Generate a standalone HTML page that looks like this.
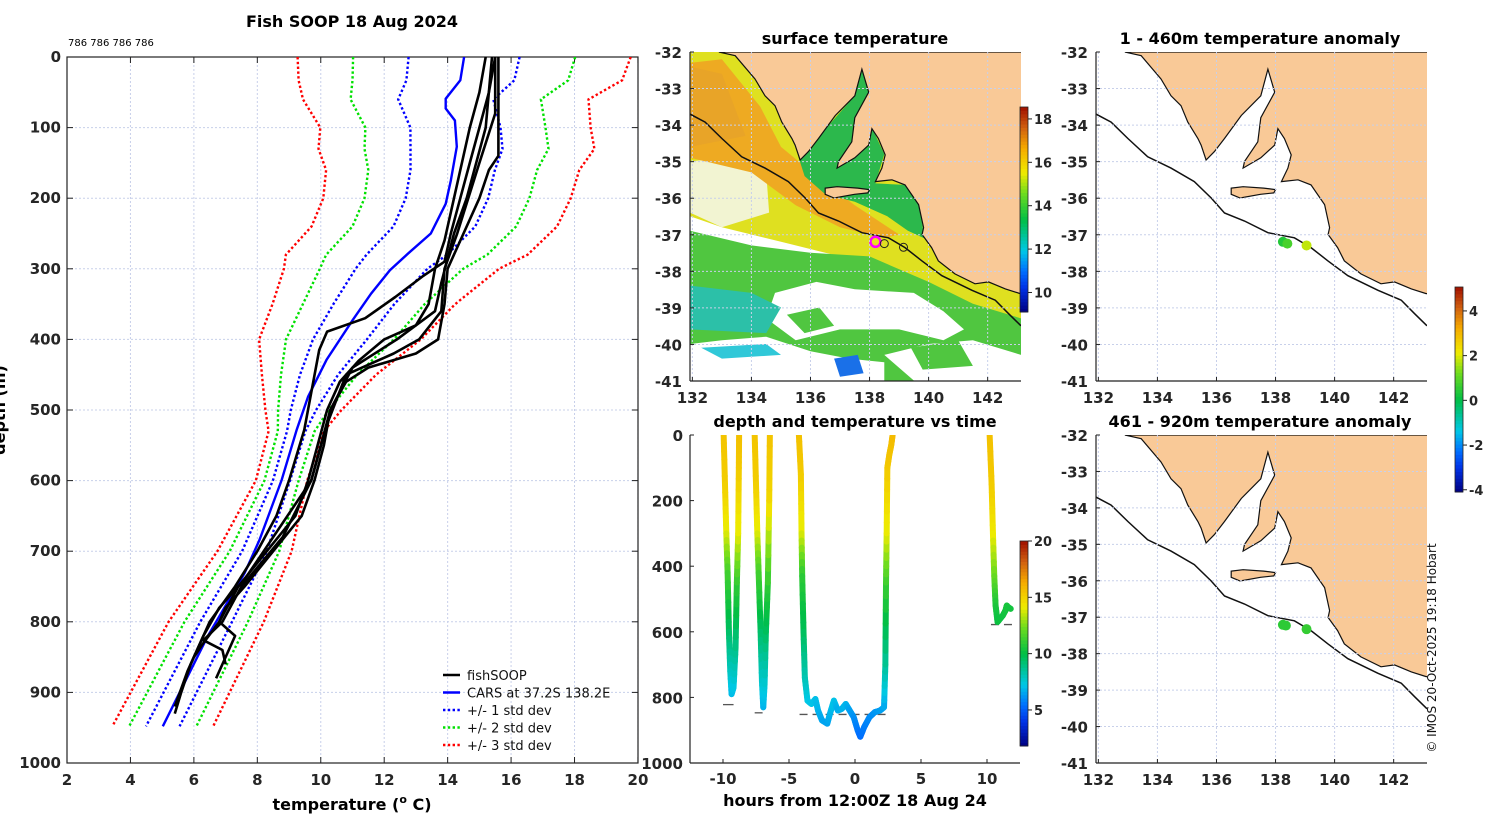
<!DOCTYPE html>
<html><head><meta charset="utf-8"><title>Fish SOOP 18 Aug 2024</title>
<style>
html,body{margin:0;padding:0;background:#fff;}
svg{display:block;font-family:"DejaVu Sans","Liberation Sans",sans-serif;}
.tk{font-size:15px;font-weight:bold;fill:#262626;}
.tt{font-size:16px;font-weight:bold;fill:#000;}
.pl{font-weight:normal;fill:#111;}
</style></head>
<body>
<svg id="fig" width="1500" height="820" viewBox="0 0 1500 820" xmlns="http://www.w3.org/2000/svg">
<defs>
<clipPath id="cpMain"><rect x="67" y="57" width="571" height="706"/></clipPath>
<clipPath id="cpM1"><rect x="690" y="52" width="331" height="329"/></clipPath>
<clipPath id="cpM2"><rect x="1096" y="52" width="331" height="329"/></clipPath>
<clipPath id="cpM3"><rect x="1096" y="435" width="331" height="328"/></clipPath>
<clipPath id="cpDT"><rect x="690" y="435" width="330" height="328"/></clipPath>
</defs>
</svg>
<script>
// ---------------- DATA ----------------
const carsDepth=[0,33,59,73,90,127,175,208,250,278,302,335,373,429,481,528,599,684,731,821,948];
const carsTemp=[14.52,14.4,13.94,13.94,14.23,14.29,14.1,13.94,13.47,12.76,12.18,11.59,11.0,10.18,9.6,9.24,8.77,8.07,7.6,6.43,5.02];
const sdDepth=[0,33,60,100,130,160,200,240,280,300,350,400,450,500,530,600,700,800,948];
const sdVal=[1.75,1.70,1.50,1.42,1.45,1.33,1.30,1.29,1.27,1.13,0.96,0.85,0.6,0.4,0.29,0.27,0.39,0.5,0.53];
const p1Depth=[0,50,100,150,200,250,290,311,340,370,389,415,528,600,650,700,750,800,830,870,920];
const p1Temp=[15.5,15.3,15.0,14.7,14.4,14.1,13.9,13.2,12.35,11.4,10.2,9.95,9.48,9.0,8.6,8.0,7.3,6.5,6.2,5.8,5.4];
const p2Depth=[0,100,140,160,200,250,300,350,400,420,440,460,500,550,600,650,700,750,780,800,820,850,880];
const p2Temp=[15.6,15.6,15.6,15.3,15.0,14.5,14.0,13.9,13.7,13.0,11.5,10.8,10.3,10.1,9.8,9.4,8.5,7.6,7.0,6.8,7.3,7.0,6.7];
const p3Depth=[0,50,100,200,260,300,350,380,400,430,460,500,600,650,700,750,800,830,850];
const p3Temp=[15.2,15.0,14.7,14.2,13.9,13.6,13.4,13.0,12.0,11.2,10.6,10.2,9.6,9.2,8.3,7.4,6.8,6.3,6.0];
const p4Depth=[0,100,200,250,320,360,400,440,500,600,700,740,780,820,860,900,930];
const p4Temp=[15.4,15.2,14.6,14.2,13.8,13.6,12.4,11.0,10.3,9.7,8.2,7.6,6.8,6.3,5.9,5.6,5.4];
const p5Depth=[0,80,150,250,300,360,400,420,450,520,600,680,750,800,826,840,860];
const p5Temp=[15.5,15.5,15.0,14.3,13.9,13.8,13.1,12.3,10.8,10.2,9.7,8.8,7.5,6.9,6.3,6.9,7.0];
const xTicks=[2,4,6,8,10,12,14,16,18,20];
const yTicks=[0,100,200,300,400,500,600,700,800,900,1000];
const d1Hour=[-9.95,-9.85,-9.75,-9.65,-9.55,-9.45,-9.35,-9.2,-9.05,-8.95,-8.85,-8.8,-8.78];
const d1Depth=[0,150,300,420,600,720,790,770,650,450,300,100,0];
const d1Temp=[15.5,15.2,14,11.5,9.5,8,7,7.2,8.8,11,14,15.3,15.6];
const d2Hour=[-7.6,-7.5,-7.4,-7.3,-7.15,-7.05,-6.95,-6.85,-6.75,-6.6,-6.5,-6.45];
const d2Depth=[0,150,300,420,600,750,830,760,600,450,200,0];
const d2Temp=[15.5,15.2,14,11.5,9.5,7.8,6.8,7.5,9.5,11,14.8,15.5];
const d3Hour=[-4.25,-4.1,-4.05,-4.0,-3.9,-3.8,-3.6,-3.3,-3.0,-2.8,-2.5,-2.1,-1.9,-1.6,-1.3,-1.0,-0.7,-0.4,-0.1,0.2,0.4,0.7,1.1,1.5,1.9,2.2,2.3,2.35,2.4,2.45,2.6,2.75,2.85];
const d3Depth=[0,120,300,430,600,740,810,820,805,840,870,880,850,810,840,835,820,840,860,900,920,890,860,845,840,830,700,450,300,100,60,30,0];
const d3Temp=[15.6,15.3,14,11,9.7,8.2,7.3,7.2,7.1,6.9,6.6,6.5,6.8,7.2,6.7,6.8,6.9,6.5,6.2,5.7,5.4,5.7,6.0,6.2,6.4,6.5,8.5,11.2,14,15.3,15.5,15.6,15.8];
const d4Hour=[10.2,10.35,10.45,10.55,10.65,10.8,11.0,11.2,11.4,11.5,11.6,11.8];
const d4Depth=[0,150,300,430,520,570,560,550,535,520,525,530];
const d4Temp=[15.6,15.3,14.3,12.3,10.6,10.2,10.3,10.3,10.4,10.5,10.5,10.4];
const bottomStart=[-10.0,-7.6,-4.2,10.3];
const bottomEnd=[-9.2,-7.0,2.4,12.1];
const bottomDepth=[822,847,852,578];
const hourTicks=[-10,-5,0,5,10];
const dtDepthTicks=[0,200,400,600,800,1000];
const lonTicks=[132,134,136,138,140,142];
const latTicks=[-32,-33,-34,-35,-36,-37,-38,-39,-40,-41];
const coastLon=[132.9,133.45,134.12,134.46,134.8,135.03,135.37,135.48,135.65,135.93,136.27,136.84,137.5,137.74,137.97,137.5,137.4,136.95,136.9,137.5,137.97,138.08,138.3,138.53,138.42,138.2,138.76,139.2,139.66,139.83,139.78,140.1,140.33,140.89,141.57,142.03,142.6,143.1,143.2,143.2];
const coastLat=[-32,-32.1,-32.74,-33.2,-33.47,-33.92,-34.37,-34.55,-34.96,-34.73,-34.37,-33.74,-33.2,-32.47,-33.1,-33.8,-34.46,-35.0,-35.18,-34.9,-34.55,-34.1,-34.37,-34.82,-35.18,-35.55,-35.5,-35.64,-36.18,-36.81,-37.0,-37.36,-37.72,-38.08,-38.35,-38.3,-38.49,-38.62,-38.62,-32];
const kiLon=[136.5,136.9,137.6,138.0,137.94,137.49,136.8,136.5];
const kiLat=[-35.73,-35.69,-35.73,-35.77,-35.86,-35.9,-36.0,-35.9];
const shelfLon=[131.92,132.43,133,133.67,134.46,135.25,135.82,136.27,136.95,137.74,138.64,139.2,139.77,140.45,141.47,142.26,142.71,143.13];
const shelfLat=[-33.7,-33.92,-34.37,-34.87,-35.18,-35.55,-36.0,-36.41,-36.63,-36.95,-37.09,-37.36,-37.72,-38.13,-38.53,-38.8,-39.17,-39.5];
const anomLon1=[138.25,138.4,139.05];
const anomLat1=[-37.2,-37.25,-37.3];
const anomVal1=[0.4,0.8,1.8];
const anomLon2=[138.25,138.35,139.05];
const anomLat2=[-37.2,-37.22,-37.32];
const anomVal2=[0.5,0.5,0.6];
const sstCbTicks=[10,12,14,16,18];
const anomCbTicks=[-4,-2,0,2,4];
const dtCbTicks=[5,10,15,20];

// ---------------- HELPERS ----------------
const NS="http://www.w3.org/2000/svg";
const svg=document.getElementById('fig');
function mk(tag,attrs,parent){const e=document.createElementNS(NS,tag);for(const k in attrs)e.setAttribute(k,attrs[k]);(parent||svg).appendChild(e);return e;}
function txt(s,x,y,cls,anchor,parent){const t=mk('text',{x:x,y:y,'class':cls,'text-anchor':anchor||'middle'},parent);t.textContent=s;return t;}
const stops=[[0,[0,0,128]],[0.12,[0,50,230]],[0.2,[0,110,255]],[0.3,[0,200,230]],[0.45,[0,190,70]],[0.58,[110,220,30]],[0.68,[240,235,0]],[0.8,[245,170,0]],[0.9,[208,96,16]],[1,[160,16,0]]];
function cmap(f){f=Math.max(0,Math.min(1,f));for(let i=1;i<stops.length;i++){if(f<=stops[i][0]){const a=stops[i-1],b=stops[i];const t=(f-a[0])/(b[0]-a[0]);const c=a[1].map((v,j)=>Math.round(v+(b[1][j]-v)*t));return 'rgb('+c.join(',')+')';}}return 'rgb(160,16,0)';}
function interp(xs,ys,x){if(x<=xs[0])return ys[0];for(let i=1;i<xs.length;i++){if(x<=xs[i]){const t=(x-xs[i-1])/(xs[i]-xs[i-1]);return ys[i-1]+t*(ys[i]-ys[i-1]);}}return ys[ys.length-1];}

// ---------------- MAIN PROFILE CHART ----------------
const xT=T=>67+(T-2)*31.72;
const yD=d=>57+d*0.706;
const gMain=mk('g',{});


const title=txt('Fish SOOP 18 Aug 2024',352,27,'tt','middle',gMain);


const cnt=txt('786 786 786 786',68,46,'pl','start',gMain);
cnt.setAttribute('style','font-size:10px;fill:#000');


xTicks.forEach(v=>{
  const gl=mk('line',{x1:xT(v),x2:xT(v),y1:57,y2:763,stroke:'#c8d0ea','stroke-dasharray':'2,2','stroke-width':1},gMain);
  
  
  mk('line',{x1:xT(v),x2:xT(v),y1:57,y2:63,stroke:'#222'},gMain);
  mk('line',{x1:xT(v),x2:xT(v),y1:763,y2:757,stroke:'#222'},gMain);
  const t=txt(String(v),xT(v),785,'tk','middle',gMain);
  
  
});
yTicks.forEach(v=>{
  const gl=mk('line',{x1:67,x2:638,y1:yD(v),y2:yD(v),stroke:'#c8d0ea','stroke-dasharray':'2,2','stroke-width':1},gMain);
  
  
  mk('line',{x1:67,x2:73,y1:yD(v),y2:yD(v),stroke:'#222'},gMain);
  mk('line',{x1:632,x2:638,y1:yD(v),y2:yD(v),stroke:'#222'},gMain);
  const t=txt(String(v),61,yD(v)+5,'tk','end',gMain);
  
  
});
const box=mk('rect',{x:67,y:57,width:571,height:706,fill:'none',stroke:'#222','stroke-width':1.2},gMain);


const plotG=mk('g',{'clip-path':'url(#cpMain)'},gMain);
const bandCols=['#0000ff','#00e000','#ff0000'];
[1,2,3].forEach(k=>{
  [-1,1].forEach(s=>{
    const pts=sdDepth.map((d,i)=>xT(interp(carsDepth,carsTemp,d)+s*k*sdVal[i]).toFixed(1)+','+yD(d).toFixed(1)).join(' ');
    const pl=mk('polyline',{points:pts,fill:'none',stroke:bandCols[k-1],'stroke-width':2.4,'stroke-dasharray':'2.4,2.4'},plotG);
    
    
  });
});
const carsLine=mk('polyline',{points:carsDepth.map((d,i)=>xT(carsTemp[i]).toFixed(1)+','+yD(d).toFixed(1)).join(' '),fill:'none',stroke:'#0000ff','stroke-width':2.4},plotG);


[[p1Depth,p1Temp],[p2Depth,p2Temp],[p3Depth,p3Temp],[p4Depth,p4Temp],[p5Depth,p5Temp]].forEach((p,i)=>{
  const pl=mk('polyline',{points:p[0].map((d,j)=>xT(p[1][j]).toFixed(1)+','+yD(d).toFixed(1)).join(' '),fill:'none',stroke:'#000','stroke-width':2.6,'stroke-linejoin':'round'},plotG);
  
  
});
const legG=mk('g',{},gMain);


const legLab=['fishSOOP','CARS at 37.2S 138.2E','+/- 1 std dev','+/- 2 std dev','+/- 3 std dev'];
const legCol=['#000','#0000ff','#0000ff','#00e000','#ff0000'];
legLab.forEach((s,i)=>{
  const y=675+i*17.5;
  const ln=mk('line',{x1:443,x2:460,y1:y,y2:y,stroke:legCol[i],'stroke-width':2.4,'stroke-dasharray':i>1?'2.4,2.4':'none'},legG);
  
  
  const t=txt(s,467,y+5,'pl','start',legG);
  t.setAttribute('style','font-size:13px');
  
  
});
const xTitle=mk('text',{x:352,y:810,'class':'tt','text-anchor':'middle'},gMain);
xTitle.innerHTML='temperature (<tspan dy="-7" style="font-size:11px">o</tspan><tspan dy="7"> C)</tspan>';


const yTitle=txt('depth (m)',0,0,'tt','middle',gMain);
yTitle.setAttribute('transform','translate(5,410) rotate(-90)');



// ---------------- MAP HELPERS ----------------
const mX=(lon,x0)=>x0+(lon-131.92)*29.53;
const mY=(lat,y0)=>y0+(-32-lat)*36.5;
function poly(lons,lats,x0,y0){return lons.map((l,i)=>mX(l,x0).toFixed(1)+','+mY(lats[i],y0).toFixed(1)).join(' ');}
function mapAxes(g,x0,y0,h){
  lonTicks.forEach(v=>{
    const gl=mk('line',{x1:mX(v,x0),x2:mX(v,x0),y1:y0,y2:y0+h,stroke:'#c8d0ea','stroke-dasharray':'2,2'},g);
    
    
    mk('line',{x1:mX(v,x0),x2:mX(v,x0),y1:y0+h,y2:y0+h-4,stroke:'#222'},g);
    const t=txt(String(v),mX(v,x0),y0+h+22,'tk','middle',g);
    
    
  });
  latTicks.forEach(v=>{
    const y=y0+(-32-v)*(h/9);
    if(v<-32){
    const gl=mk('line',{x1:x0,x2:x0+331,y1:y,y2:y,stroke:'#c8d0ea','stroke-dasharray':'2,2'},g);
    
    
    }
    mk('line',{x1:x0,x2:x0+4,y1:y,y2:y,stroke:'#222'},g);
    const t=txt(String(v),x0-8,y+6,'tk','end',g);
    
    
  });
}
function frame(g,x0,y0,h){
  mk('line',{x1:x0,x2:x0,y1:y0,y2:y0+h,stroke:'#222','stroke-width':1.2},g);
  mk('line',{x1:x0,x2:x0+331,y1:y0+h,y2:y0+h,stroke:'#222','stroke-width':1.2},g);
}
function landAndShelf(g,x0,y0){
  const land=mk('polygon',{points:poly(coastLon,coastLat,x0,y0),fill:'#f9c997',stroke:'#111','stroke-width':1.2},g);
  
  
  const ki=mk('polygon',{points:poly(kiLon,kiLat,x0,y0),fill:'#f9c997',stroke:'#111','stroke-width':1.2},g);
  
  
  const sh=mk('polyline',{points:poly(shelfLon,shelfLat,x0,y0),fill:'none',stroke:'#111','stroke-width':1.5},g);
  
  
}
function colorbar(g,x,y,h,lo,hi,ticks,name){
  const n=60;
  for(let i=0;i<n;i++){
    mk('rect',{x:x,y:y+h-(i+1)*h/n,width:8,height:h/n+0.5,fill:cmap((i+0.5)/n)},g);
  }
  const r=mk('rect',{x:x,y:y,width:8,height:h,fill:'none',stroke:'#222','stroke-width':0.8},g);
  
  
  ticks.forEach(v=>{
    const yy=y+h-(v-lo)/(hi-lo)*h;
    mk('line',{x1:x+8,x2:x+12,y1:yy,y2:yy,stroke:'#222'},g);
    const t=txt(String(v),x+14,yy+5,'tk','start',g);
    t.setAttribute('style','font-size:13px');
    
    
  });
}

// ---------------- MAP 1: SST ----------------
const g1=mk('g',{});


const t1=txt('surface temperature',855,44,'tt','middle',g1);


const c1=mk('g',{'clip-path':'url(#cpM1)'},g1);
mk('rect',{x:690,y:52,width:331,height:329,fill:'#fff'},c1);
const sstLayers=[
 ['#dfe020',[131.92,143.13,143.13,141,139,137,135,133,131.92],[-32,-32,-39.6,-38.9,-38.2,-37.6,-37.2,-36.8,-36.5]],
 ['#50c640',[131.92,134,136,138,140,141.5,143.13,143.13,131.92],[-36.9,-37.3,-37.5,-37.6,-38.3,-38.9,-39.3,-41,-41]],
 ['#ffffff',[134.8,136.2,137.5,139.5,140.5,141.2,140.5,139,137,135.5,134.5],[-38.6,-38.3,-38.5,-38.6,-39.1,-39.6,-39.9,-39.6,-39.6,-39.9,-39.3]],
 ['#ffffff',[131.92,133,134.5,136,137.3,138.5,138.5,131.92],[-40.0,-39.9,-39.8,-40.2,-40.4,-40.5,-41,-41]],
 ['#ffffff',[138.5,140,141.5,143.13,143.13,141.5,139.5],[-40.3,-40.0,-39.9,-40.3,-41,-41,-41]],
 ['#50c640',[135.2,136.3,136.8,135.8],[-39.2,-39.0,-39.5,-39.7]],
 ['#50c640',[139.4,141.0,141.5,139.8],[-40.1,-39.9,-40.6,-40.7]],
 ['#f2f4d2',[131.92,133,134.5,134.6,133,131.92],[-35,-34.9,-35.3,-36.4,-36.8,-36.4]],
 ['#2cc0a8',[131.92,134,135,134.5,131.92],[-38.4,-38.6,-39,-39.7,-39.6]],
 ['#30c8d8',[132.3,134.5,135,133],[-40.1,-40.0,-40.3,-40.4]],
 ['#eeaa22',[131.92,133,134.3,135,136.2,137.5,139,138.5,137,135.5,134,131.92],[-32.3,-32.2,-33.5,-34.6,-35.4,-36.2,-37,-37.1,-36.8,-36.2,-35.3,-34.9]],
 ['#e8a428',[131.92,133,133.8,131.92],[-32.4,-32.6,-34.3,-34.6]],
 ['#2cb84c',[135.6,136.3,137.5,137.74,138.0,138.1,138.5,138.2,139.2,139.7,139.85,139.3,138.6,137.5,136.5,135.8],[-34.9,-34.3,-33.2,-32.47,-33.1,-34.1,-34.8,-35.6,-35.64,-36.2,-37.1,-36.9,-36.5,-36.1,-35.9,-35.4]],
 ['#1a70e8',[136.8,137.6,137.8,137.0],[-40.4,-40.3,-40.8,-40.9]]
];
sstLayers.forEach((L,i)=>{
  const p=mk('polygon',{points:poly(L[1],L[2],690,52),fill:L[0]},c1);
  
  
});
mapAxes(g1,690,52,329);
landAndShelf(c1,690,52);
const mag=mk('circle',{cx:mX(138.2,690),cy:mY(-37.2,52),r:5,fill:'#e8e020',stroke:'#ff00ff','stroke-width':2.5},c1);


[[138.5,-37.25],[139.15,-37.35]].forEach(p=>{
  const c=mk('circle',{cx:mX(p[0],690),cy:mY(p[1],52),r:4,fill:'none',stroke:'#222','stroke-width':1},c1);
  
  
});
frame(g1,690,52,329);
colorbar(g1,1020,107,205,9.1,18.55,sstCbTicks,'sst-colorbar');

// ---------------- MAP 2 / 3: anomalies ----------------
function anomMap(y0,h,ttl,lons,lats,vals,name){
  const g=mk('g',{});
  
  
  const t=txt(ttl,1260,y0-8,'tt','middle',g);
  
  
  const cid=y0<100?'url(#cpM2)':'url(#cpM3)';
  const c=mk('g',{'clip-path':cid},g);
  mapAxes(g,1096,y0,h);
  landAndShelf(c,1096,y0);
  lons.forEach((l,i)=>{
    const d=mk('circle',{cx:mX(l,1096),cy:mY(lats[i],y0),r:5,fill:cmap((vals[i]+4.1)/9.17)},c);
    
    
  });
  frame(g,1096,y0,h);
  return g;
}
anomMap(52,329,'1 - 460m temperature anomaly',anomLon1,anomLat1,anomVal1,'anomaly-map-shallow');
anomMap(435,328,'461 - 920m temperature anomaly',anomLon2,anomLat2,anomVal2,'anomaly-map-deep');
const g2cb=mk('g',{});


colorbar(g2cb,1455,287,205,-4.1,5.07,anomCbTicks,'anomaly-colorbar');

// ---------------- DEPTH vs TIME ----------------
const xH=h=>855+h*13.2;
const yDD=d=>435+d*0.328;
const gdt=mk('g',{});


const tdt=txt('depth and temperature vs time',855,427,'tt','middle',gdt);


hourTicks.forEach(v=>{
  mk('line',{x1:xH(v),x2:xH(v),y1:763,y2:759,stroke:'#222'},gdt);
  const t=txt(String(v),xH(v),784,'tk','middle',gdt);
  
  
});
dtDepthTicks.forEach(v=>{
  mk('line',{x1:690,x2:694,y1:yDD(v),y2:yDD(v),stroke:'#222'},gdt);
  const t=txt(String(v),683,yDD(v)+6,'tk','end',gdt);
  
  
});
const cdt=mk('g',{'clip-path':'url(#cpDT)'},gdt);
bottomStart.forEach((s,i)=>{
  const l=mk('line',{x1:xH(s),x2:xH(bottomEnd[i]),y1:yDD(bottomDepth[i]),y2:yDD(bottomDepth[i]),stroke:'#555','stroke-width':1.3,'stroke-dasharray':(bottomEnd[i]-s>1?'8,5':'none')},cdt);
  
  
});
[[d1Hour,d1Depth,d1Temp],[d2Hour,d2Depth,d2Temp],[d3Hour,d3Depth,d3Temp],[d4Hour,d4Depth,d4Temp]].forEach((D,k)=>{
  const tg=mk('g',{},cdt);
  
  
  for(let i=1;i<D[0].length;i++){
    const n=6;
    for(let j=0;j<n;j++){
      const a=j/n,b=(j+1)/n;
      const h0=D[0][i-1]+(D[0][i]-D[0][i-1])*a,h1=D[0][i-1]+(D[0][i]-D[0][i-1])*b;
      const d0=D[1][i-1]+(D[1][i]-D[1][i-1])*a,d1=D[1][i-1]+(D[1][i]-D[1][i-1])*b;
      const tm=D[2][i-1]+(D[2][i]-D[2][i-1])*(a+b)/2;
      mk('line',{x1:xH(h0),y1:yDD(d0),x2:xH(h1),y2:yDD(d1),stroke:cmap((tm-1.8)/18.2),'stroke-width':6,'stroke-linecap':'round'},tg);
    }
  }
});
mk('line',{x1:690,x2:690,y1:435,y2:763,stroke:'#222','stroke-width':1.2},gdt);
mk('line',{x1:690,x2:1020,y1:763,y2:763,stroke:'#222','stroke-width':1.2},gdt);
const xdt=txt('hours from 12:00Z 18 Aug 24',855,806,'tt','middle',gdt);


colorbar(gdt,1020,541,205,1.8,20,dtCbTicks,'depth-time-colorbar');

const cr=txt('\u00a9 IMOS 20-Oct-2025 19:18 Hobart',0,0,'pl','middle');
cr.setAttribute('transform','translate(1436,648) rotate(-90)');
cr.setAttribute('style','font-size:12px');


</script>
</body></html>
